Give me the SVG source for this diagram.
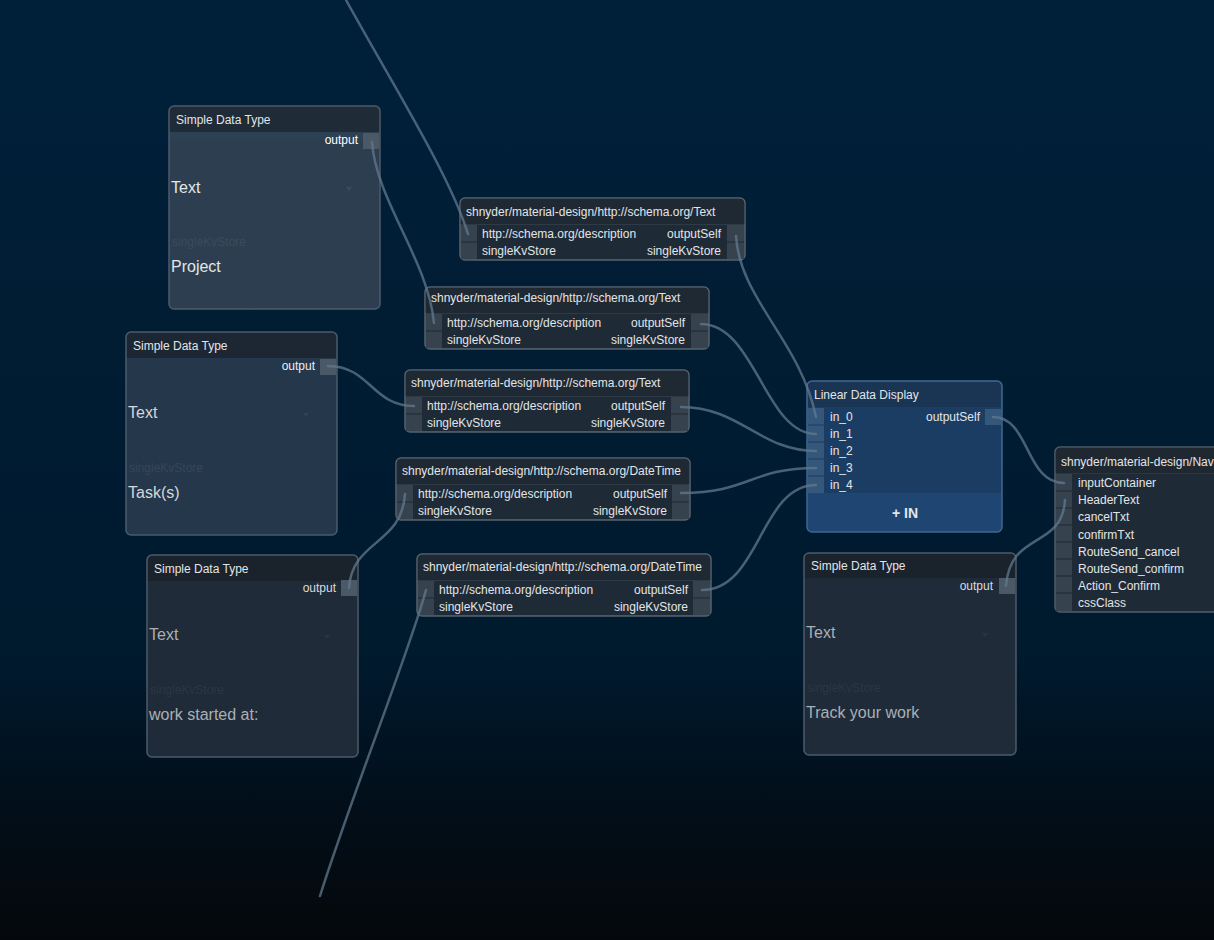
<svg xmlns="http://www.w3.org/2000/svg" width="1214" height="940" viewBox="0 0 1214 940">
<defs>
<linearGradient id="bg" x1="0" y1="0" x2="0" y2="1">
<stop offset="0" stop-color="#00203a"/>
<stop offset="0.7" stop-color="#001a2e"/>
<stop offset="0.86" stop-color="#020e19"/>
<stop offset="1" stop-color="#05080b"/>
</linearGradient>
<style>
text{font-family:"Liberation Sans",Arial,sans-serif;}
.t12{font-size:12px;fill:#e2e5e8;}
.t16{font-size:16px;}
.sbody{fill:#2e3b47;stroke:#55636f;stroke-width:1.5;}
.stitle{fill:#1f2933;}
.port{fill:#36434f;}
.rows{fill:#1e2b37;}
.sep{stroke:#1f2831;stroke-width:1;}
.lport{fill:#35577c;}
.lsep{stroke:#1d3a5c;stroke-width:1;}
.wire{fill:none;stroke:#62788c;stroke-width:2.5;stroke-opacity:0.75;stroke-linecap:round;}
.nport{fill:#4b5967;}
.edge{fill:none;stroke:#4c5b69;stroke-width:1.5;}
</style>
</defs>
<rect x="0" y="0" width="1214" height="940" fill="url(#bg)"/>

<!-- Simple Data Type nodes -->
<g id="sdt-project" transform="translate(169,106)">
<rect x="0" y="0" width="211" height="203" rx="5" fill="#2c3e50"/>
<path d="M5,0 H206 A5,5 0 0 1 211,5 V26 H0 V5 A5,5 0 0 1 5,0 Z" fill="#1f2b37"/>
<rect x="1" y="26" width="193" height="8" fill="#2f4558" opacity="0.6"/>
<rect class="nport" x="194" y="27" width="16" height="16"/>
<rect class="edge" x="0" y="0" width="211" height="203" rx="5"/>
<text class="t12" x="7" y="18">Simple Data Type</text>
<text class="t12" x="189" y="38" text-anchor="end" fill="#ffffff" style="fill:#ffffff">output</text>
<text class="t16" x="2" y="86.5" fill="#e4e6e8">Text</text>
<path d="M177,81 L183,81 L180,85 Z" fill="#3a4c5c"/>
<text class="t12" x="3" y="140" style="fill:#3b4c5c">singleKvStore</text>
<text class="t16" x="2" y="166" fill="#e4e6e8">Project</text>
</g>

<g id="sdt-tasks" transform="translate(126,332)">
<rect x="0" y="0" width="211" height="203" rx="5" fill="#25374a"/>
<path d="M5,0 H206 A5,5 0 0 1 211,5 V26 H0 V5 A5,5 0 0 1 5,0 Z" fill="#1c2733"/>
<rect class="nport" x="194" y="27" width="16" height="16"/>
<rect class="edge" x="0" y="0" width="211" height="203" rx="5"/>
<text class="t12" x="7" y="18">Simple Data Type</text>
<text class="t12" x="189" y="38" text-anchor="end" style="fill:#eceef0">output</text>
<text class="t16" x="2" y="86" fill="#d4d8dc">Text</text>
<path d="M177,81 L183,81 L180,85 Z" fill="#32434f"/>
<text class="t12" x="3" y="140" style="fill:#34475a">singleKvStore</text>
<text class="t16" x="2" y="166" fill="#d4d8dc">Task(s)</text>
</g>

<g id="sdt-started" transform="translate(147,555)">
<rect x="0" y="0" width="211" height="202" rx="5" fill="#1f2b38"/>
<path d="M5,0 H206 A5,5 0 0 1 211,5 V26 H0 V5 A5,5 0 0 1 5,0 Z" fill="#1a222c"/>
<rect class="nport" x="194" y="25" width="16" height="16"/>
<rect class="edge" x="0" y="0" width="211" height="202" rx="5"/>
<text class="t12" x="7" y="18">Simple Data Type</text>
<text class="t12" x="189" y="37" text-anchor="end" style="fill:#dadcde">output</text>
<text class="t16" x="2" y="85" fill="#aab0b5">Text</text>
<path d="M177,80 L183,80 L180,84 Z" fill="#2a3542"/>
<text class="t12" x="3" y="139" style="fill:#2a3744">singleKvStore</text>
<text class="t16" x="2" y="165" fill="#aab0b5">work started at:</text>
</g>

<g id="sdt-track" transform="translate(804,553)">
<rect x="0" y="0" width="212" height="202" rx="5" fill="#1f2b38"/>
<path d="M5,0 H207 A5,5 0 0 1 212,5 V25 H0 V5 A5,5 0 0 1 5,0 Z" fill="#1a222c"/>
<rect class="nport" x="195" y="25" width="16" height="16"/>
<rect class="edge" x="0" y="0" width="212" height="202" rx="5"/>
<text class="t12" x="7" y="17">Simple Data Type</text>
<text class="t12" x="189" y="37" text-anchor="end" style="fill:#dadcde">output</text>
<text class="t16" x="2" y="85" fill="#aab0b5">Text</text>
<path d="M178,80 L184,80 L181,84 Z" fill="#2a3542"/>
<text class="t12" x="3" y="139" style="fill:#2a3744">singleKvStore</text>
<text class="t16" x="2" y="165" fill="#aab0b5">Track your work</text>
</g>

<!-- Schema nodes -->
<g id="schema-text-1" transform="translate(460,198)">
<rect class="sbody" x="0" y="0" width="285" height="62" rx="5"/>
<path class="stitle" d="M5,0.75 H280 A4.25,4.25 0 0 1 284.25,5 V26 H0.75 V5 A4.25,4.25 0 0 1 5,0.75 Z"/>
<rect class="port" x="1" y="27" width="16" height="34"/>
<rect class="rows" x="17" y="27" width="250" height="34"/>
<rect class="port" x="267" y="27" width="17" height="34"/>
<line class="sep" x1="1" y1="44" x2="17" y2="44"/><line class="sep" x1="267" y1="44" x2="284" y2="44"/>
<text class="t12" x="6" y="18">shnyder/material-design/http://schema.org/Text</text>
<text class="t12" x="22" y="40">http://schema.org/description</text>
<text class="t12" x="22" y="57">singleKvStore</text>
<text class="t12" x="261" y="40" text-anchor="end">outputSelf</text>
<text class="t12" x="261" y="57" text-anchor="end">singleKvStore</text>
</g>

<g id="schema-text-2" transform="translate(425,287)">
<rect class="sbody" x="0" y="0" width="284" height="62" rx="5"/>
<path class="stitle" d="M5,0.75 H279 A4.25,4.25 0 0 1 283.25,5 V26 H0.75 V5 A4.25,4.25 0 0 1 5,0.75 Z"/>
<rect class="port" x="1" y="27" width="16" height="34"/>
<rect class="rows" x="17" y="27" width="249" height="34"/>
<rect class="port" x="266" y="27" width="17" height="34"/>
<line class="sep" x1="1" y1="44" x2="17" y2="44"/><line class="sep" x1="266" y1="44" x2="283" y2="44"/>
<text class="t12" x="6" y="15">shnyder/material-design/http://schema.org/Text</text>
<text class="t12" x="22" y="40">http://schema.org/description</text>
<text class="t12" x="22" y="57">singleKvStore</text>
<text class="t12" x="260" y="40" text-anchor="end">outputSelf</text>
<text class="t12" x="260" y="57" text-anchor="end">singleKvStore</text>
</g>

<g id="schema-text-3" transform="translate(405,370)">
<rect class="sbody" x="0" y="0" width="284" height="62" rx="5"/>
<path class="stitle" d="M5,0.75 H279 A4.25,4.25 0 0 1 283.25,5 V26 H0.75 V5 A4.25,4.25 0 0 1 5,0.75 Z"/>
<rect class="port" x="1" y="27" width="16" height="34"/>
<rect class="rows" x="17" y="27" width="249" height="34"/>
<rect class="port" x="266" y="27" width="17" height="34"/>
<line class="sep" x1="1" y1="44" x2="17" y2="44"/><line class="sep" x1="266" y1="44" x2="283" y2="44"/>
<text class="t12" x="6" y="17">shnyder/material-design/http://schema.org/Text</text>
<text class="t12" x="22" y="40">http://schema.org/description</text>
<text class="t12" x="22" y="57">singleKvStore</text>
<text class="t12" x="260" y="40" text-anchor="end">outputSelf</text>
<text class="t12" x="260" y="57" text-anchor="end">singleKvStore</text>
</g>

<g id="schema-datetime-1" transform="translate(396,458)">
<rect class="sbody" x="0" y="0" width="294" height="62" rx="5"/>
<path class="stitle" d="M5,0.75 H289 A4.25,4.25 0 0 1 293.25,5 V26 H0.75 V5 A4.25,4.25 0 0 1 5,0.75 Z"/>
<rect class="port" x="1" y="27" width="16" height="34"/>
<rect class="rows" x="17" y="27" width="259" height="34"/>
<rect class="port" x="276" y="27" width="17" height="34"/>
<line class="sep" x1="1" y1="44" x2="17" y2="44"/><line class="sep" x1="276" y1="44" x2="293" y2="44"/>
<text class="t12" x="6" y="17">shnyder/material-design/http://schema.org/DateTime</text>
<text class="t12" x="22" y="40">http://schema.org/description</text>
<text class="t12" x="22" y="57">singleKvStore</text>
<text class="t12" x="271" y="40" text-anchor="end">outputSelf</text>
<text class="t12" x="271" y="57" text-anchor="end">singleKvStore</text>
</g>

<g id="schema-datetime-2" transform="translate(417,554)">
<rect class="sbody" x="0" y="0" width="294" height="62" rx="5"/>
<path class="stitle" d="M5,0.75 H289 A4.25,4.25 0 0 1 293.25,5 V26 H0.75 V5 A4.25,4.25 0 0 1 5,0.75 Z"/>
<rect class="port" x="1" y="27" width="16" height="34"/>
<rect class="rows" x="17" y="27" width="259" height="34"/>
<rect class="port" x="276" y="27" width="17" height="34"/>
<line class="sep" x1="1" y1="44" x2="17" y2="44"/><line class="sep" x1="276" y1="44" x2="293" y2="44"/>
<text class="t12" x="6" y="17">shnyder/material-design/http://schema.org/DateTime</text>
<text class="t12" x="22" y="40">http://schema.org/description</text>
<text class="t12" x="22" y="57">singleKvStore</text>
<text class="t12" x="271" y="40" text-anchor="end">outputSelf</text>
<text class="t12" x="271" y="57" text-anchor="end">singleKvStore</text>
</g>

<!-- Linear Data Display -->
<g id="linear-data-display" transform="translate(807,381)">
<rect x="0" y="0" width="195" height="151" rx="5" fill="#1c3d63"/>
<path d="M5,0.75 H190 A4.25,4.25 0 0 1 194.25,5 V26 H0.75 V5 A4.25,4.25 0 0 1 5,0.75 Z" fill="#1a3453"/>
<rect class="lport" x="1" y="27" width="16" height="85"/>
<line class="lsep" x1="1" y1="44" x2="17" y2="44"/>
<line class="lsep" x1="1" y1="61" x2="17" y2="61"/>
<line class="lsep" x1="1" y1="78" x2="17" y2="78"/>
<line class="lsep" x1="1" y1="95" x2="17" y2="95"/>
<rect class="lport" x="178" y="28" width="16" height="16"/>
<path d="M0.75,112 H194.25 V146 A4.25,4.25 0 0 1 190,150.25 H5 A4.25,4.25 0 0 1 0.75,146 Z" fill="#1f4672"/>
<rect x="0" y="0" width="195" height="151" rx="5" fill="none" stroke="#3e6892" stroke-width="1.5"/>
<text class="t12" x="7" y="18">Linear Data Display</text>
<text class="t12" x="23" y="40">in_0</text>
<text class="t12" x="23" y="57">in_1</text>
<text class="t12" x="23" y="74">in_2</text>
<text class="t12" x="23" y="91">in_3</text>
<text class="t12" x="23" y="108">in_4</text>
<text class="t12" x="173" y="40" text-anchor="end">outputSelf</text>
<text x="98" y="137" text-anchor="middle" font-size="14" font-weight="bold" fill="#e2e6ea">+ IN</text>
</g>

<!-- Nav node (clipped at right edge) -->
<g id="nav-node" transform="translate(1055,447)">
<rect x="0" y="0" width="200" height="165" rx="5" fill="#2a3642" stroke="#4f5d6a" stroke-width="1.5"/>
<path d="M5,0.75 H200 V26 H0.75 V5 A4.25,4.25 0 0 1 5,0.75 Z" fill="#1f2831"/>
<rect class="port" x="1" y="27" width="16" height="137"/>
<rect class="rows" x="17" y="27" width="183" height="137"/>
<line class="sep" x1="1" y1="44" x2="17" y2="44"/>
<line class="sep" x1="1" y1="61" x2="17" y2="61"/>
<line class="sep" x1="1" y1="78" x2="17" y2="78"/>
<line class="sep" x1="1" y1="95" x2="17" y2="95"/>
<line class="sep" x1="1" y1="112" x2="17" y2="112"/>
<line class="sep" x1="1" y1="129" x2="17" y2="129"/>
<line class="sep" x1="1" y1="146" x2="17" y2="146"/>
<text class="t12" x="6" y="19">shnyder/material-design/Nav</text>
<text class="t12" x="23" y="40">inputContainer</text>
<text class="t12" x="23" y="57">HeaderText</text>
<text class="t12" x="23" y="74">cancelTxt</text>
<text class="t12" x="23" y="91.5">confirmTxt</text>
<text class="t12" x="23" y="108.5">RouteSend_cancel</text>
<text class="t12" x="23" y="125.5">RouteSend_confirm</text>
<text class="t12" x="23" y="142.5">Action_Confirm</text>
<text class="t12" x="23" y="159.5">cssClass</text>
</g>

<!-- Connectors -->
<g id="connectors">
<path class="wire" d="M346,0 C390,80 450,175 468,234"/>
<path class="wire" d="M320,896 C350,800 410,650 426,590"/>
<path class="wire" d="M372,142 C376,200 428,260 434,323"/>
<path class="wire" d="M328,366 C370,366 372,406 414,406"/>
<path class="wire" d="M349,588 C352,540 402,545 405,494"/>
<path class="wire" d="M736,236 C740,300 800,340 816,417"/>
<path class="wire" d="M701,324 C755,324 765,434 816,434"/>
<path class="wire" d="M681,407 C740,407 760,451 816,451"/>
<path class="wire" d="M681,493 C750,493 750,468 816,468"/>
<path class="wire" d="M702,590 C760,590 760,485 816,485"/>
<path class="wire" d="M993,417 C1030,417 1025,483 1064,483"/>
<path class="wire" d="M1006,586 C1010,530 1062,550 1065,500"/>
</g>
</svg>
